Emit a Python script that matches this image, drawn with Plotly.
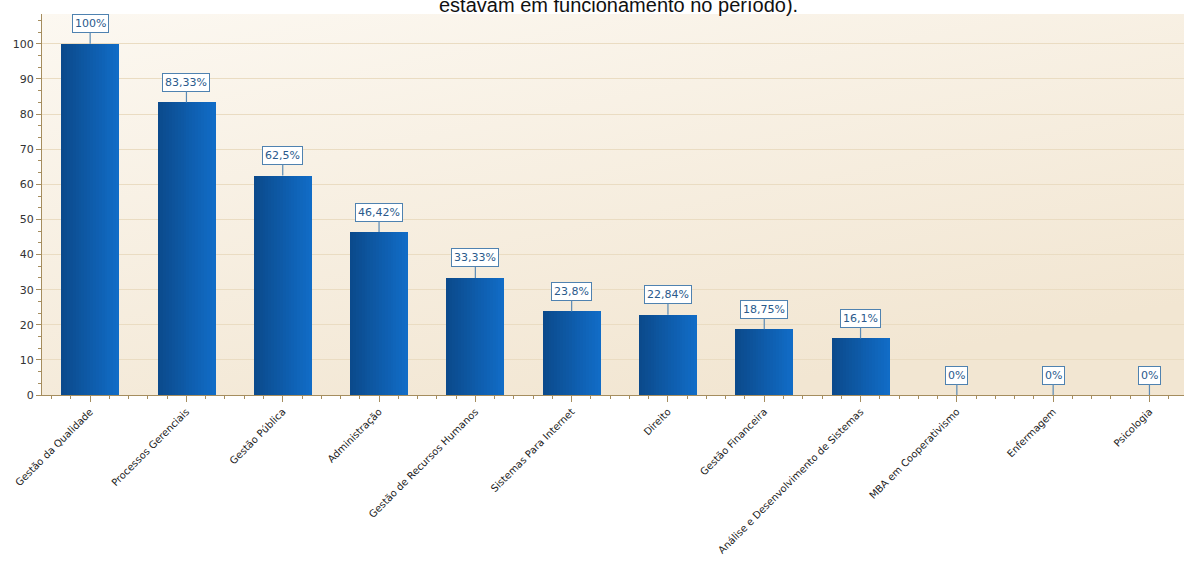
import base64
import plotly.graph_objects as go

categories = [
    "Gestão da Qualidade", "Processos Gerenciais", "Gestão Pública", "Administração",
    "Gestão de Recursos Humanos", "Sistemas Para Internet", "Direito", "Gestão Financeira",
    "Análise e Desenvolvimento de Sistemas", "MBA em Cooperativismo", "Enfermagem", "Psicologia",
]
values = [100, 83.33, 62.5, 46.42, 33.33, 23.8, 22.84, 18.75, 16.1, 0, 0, 0]
labels = ["100%", "83,33%", "62,5%", "46,42%", "33,33%", "23,8%", "22,84%", "18,75%",
          "16,1%", "0%", "0%", "0%"]
title_line = "estavam em funcionamento no período)."

W, H = 1184, 579
ML, MT, MB = 42, 14, 184
xpos = list(range(len(categories)))

fig = go.Figure()

# bar gradient made of narrow strips
N = 20
bw = 0.6
c0 = (0x0B, 0x4A, 0x8C)
c1 = (0x11, 0x6C, 0xC6)
for i in range(N):
    t = i / (N - 1)
    col = "rgb(%d,%d,%d)" % tuple(round(a + (b - a) * t) for a, b in zip(c0, c1))
    fig.add_trace(go.Bar(
        x=xpos, y=values, width=bw / N + 0.002, offset=-bw / 2 + i * bw / N,
        marker=dict(color=col, line=dict(width=0)), showlegend=False, hoverinfo="skip",
    ))

for xi, v, lab in zip(xpos, values, labels):
    fig.add_annotation(
        x=xi, y=v, xref="x", yref="y", text=lab, showarrow=True,
        ax=0, ay=-20, arrowhead=0, arrowwidth=1.2, arrowcolor="#5a8ab5",
        bgcolor="white", bordercolor="#4f82b0", borderwidth=1, borderpad=2,
        font=dict(family="DejaVu Sans", size=11, color="#2a5a8c"),
    )

fig.add_annotation(
    x=0.505, xref="paper", y=1 + (MT - 5) / (H - MT - MB), yref="paper",
    yanchor="middle", text=title_line, showarrow=False,
    font=dict(family="Liberation Sans", size=20, color="#111"),
)

svg = ('<svg xmlns="http://www.w3.org/2000/svg" width="400" height="200" preserveAspectRatio="none">'
       '<defs><linearGradient id="g" x1="0" y1="0" x2="0.6" y2="1">'
       '<stop offset="0" stop-color="#fcf8f1"/><stop offset="1" stop-color="#f2e6d2"/>'
       '</linearGradient></defs><rect width="400" height="200" fill="url(#g)"/></svg>')
uri = "data:image/svg+xml;base64," + base64.b64encode(svg.encode()).decode()
fig.add_layout_image(source=uri, xref="paper", yref="paper", x=0, y=1, sizex=1, sizey=1,
                     sizing="stretch", xanchor="left", yanchor="top", layer="below")

plot_w = W - ML
slot = 96.3
xmax = plot_w / slot - 0.5

fig.update_layout(
    width=W, height=H, margin=dict(l=ML, r=0, t=MT, b=MB, pad=0, autoexpand=False),
    barmode="overlay", bargap=0, paper_bgcolor="white", plot_bgcolor="rgba(0,0,0,0)",
    font=dict(family="DejaVu Sans", color="#333"),
)
fig.update_xaxes(
    automargin=False,
    range=[-0.5, xmax], tickmode="array", tickvals=xpos, ticktext=categories,
    tickangle=-45, tickfont=dict(family="DejaVu Sans", size=10, color="#222"),
    showline=True, linecolor="#a58d5e", linewidth=1, showgrid=False, zeroline=False,
    ticks="outside", ticklen=6, tickcolor="#a58d5e",
    minor=dict(dtick=0.2, tick0=0, ticks="outside", ticklen=3, tickcolor="#a58d5e", showgrid=False),
)
fig.update_yaxes(
    automargin=False,
    range=[0, 108.5], dtick=10, tick0=0, tickfont=dict(family="DejaVu Sans", size=11, color="#333"),
    showline=True, linecolor="#a58d5e", linewidth=1, showgrid=True, gridcolor="#eadcc2",
    gridwidth=1, zeroline=False, ticks="outside", ticklen=5, tickcolor="#a58d5e",
    minor=dict(dtick=10 / 3, tick0=0, ticks="outside", ticklen=3, tickcolor="#a58d5e", showgrid=False),
)

fig.write_html("out.html", config={"displayModeBar": False},
               post_script="document.body.style.margin='0';document.body.style.overflow='hidden';")
